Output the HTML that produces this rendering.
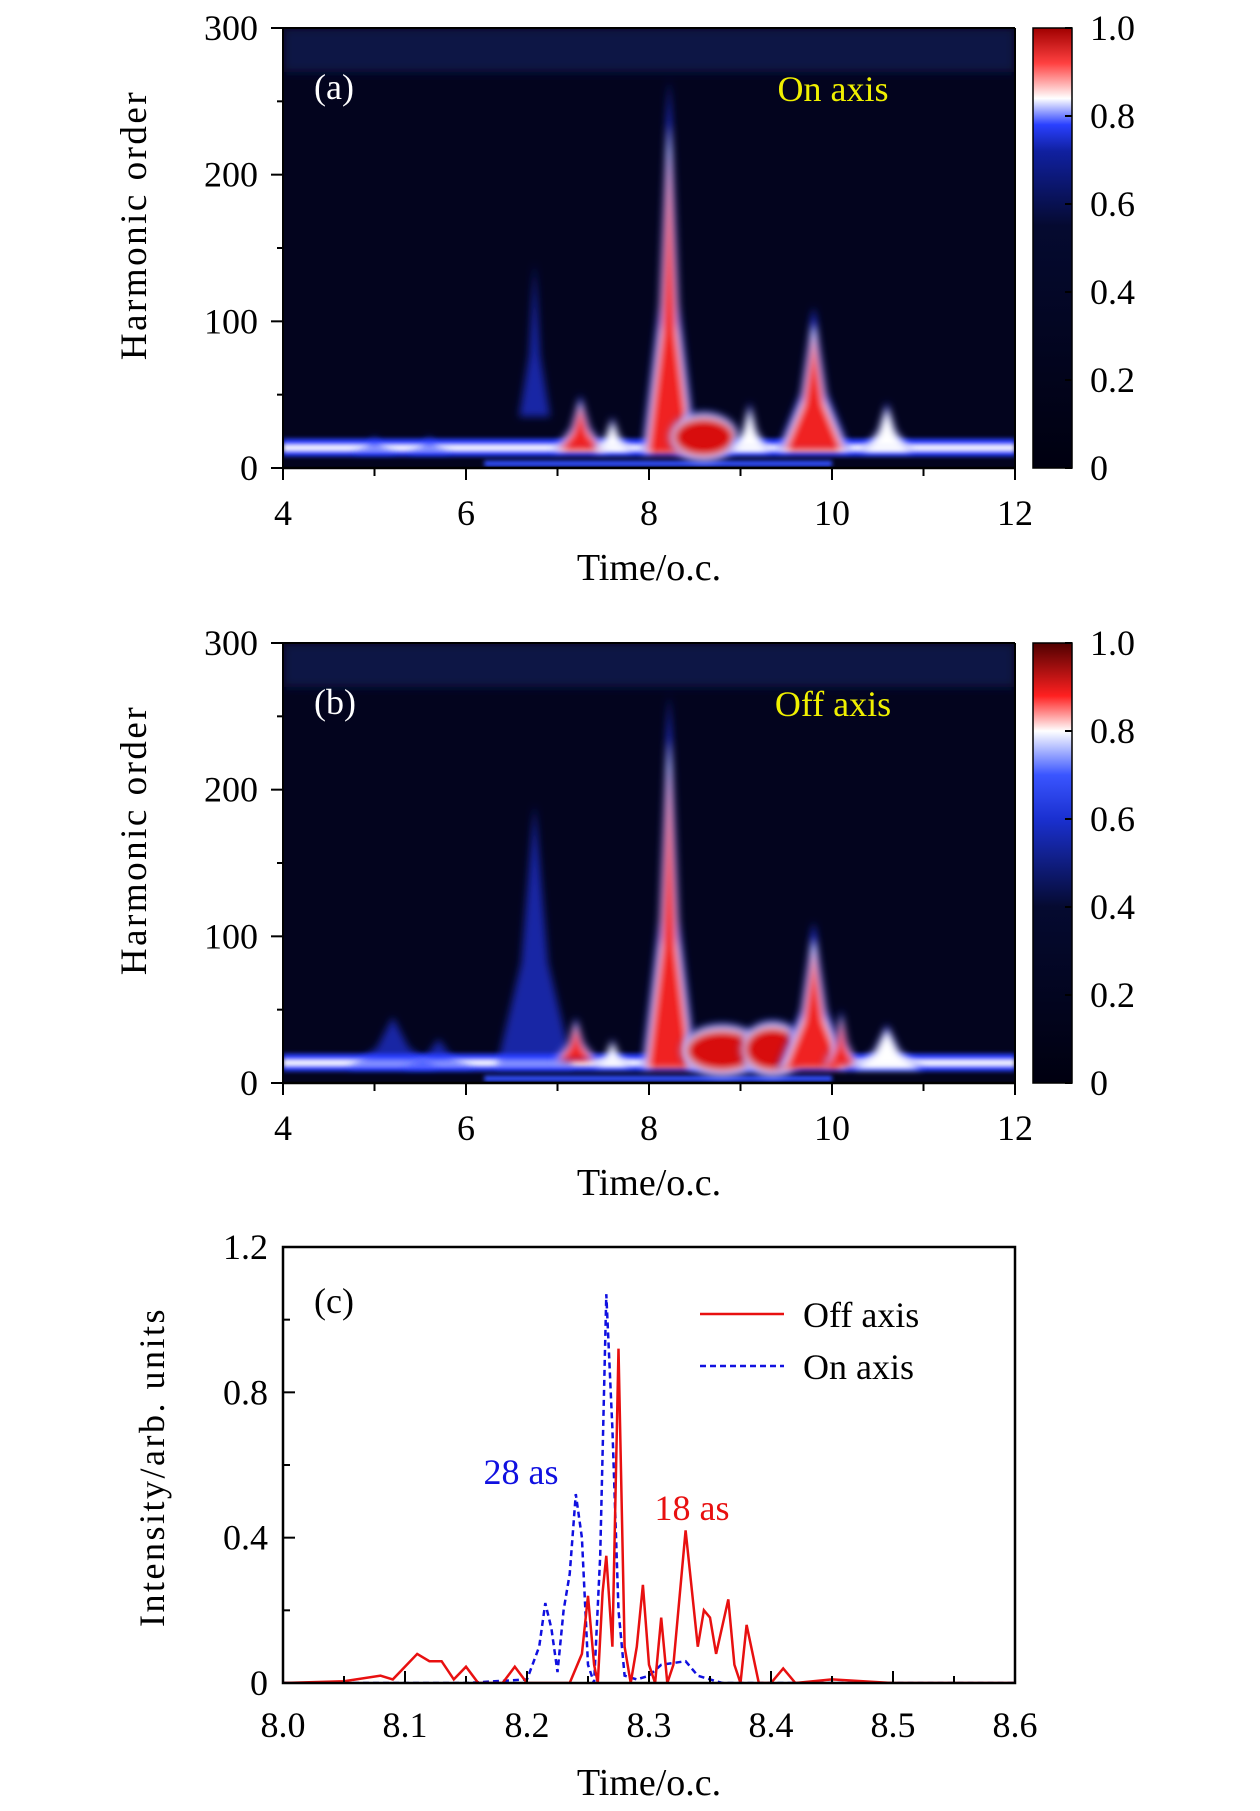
<!DOCTYPE html>
<html><head><meta charset="utf-8">
<style>
html,body{margin:0;padding:0;background:#fff;}
svg{display:block;font-family:"Liberation Serif",serif;}
</style></head>
<body>
<svg id="fig" width="1260" height="1811" viewBox="0 0 1260 1811" xmlns="http://www.w3.org/2000/svg">
<defs>
  <filter id="blur" x="-50%" y="-50%" width="200%" height="200%"><feGaussianBlur stdDeviation="5"/></filter>
  <filter id="blur2" x="-50%" y="-50%" width="200%" height="200%"><feGaussianBlur stdDeviation="4"/></filter>
  <filter id="blur3" x="-50%" y="-50%" width="200%" height="200%"><feGaussianBlur stdDeviation="2"/></filter>
  <linearGradient id="cbA" x1="0" y1="1" x2="0" y2="0">
    <stop offset="0" stop-color="#000010"/><stop offset="0.55" stop-color="#050a30"/>
    <stop offset="0.72" stop-color="#1020a0"/><stop offset="0.78" stop-color="#2a40ff"/>
    <stop offset="0.84" stop-color="#ffffff"/><stop offset="0.92" stop-color="#ff4040"/>
    <stop offset="1" stop-color="#a00000"/></linearGradient>
  <linearGradient id="cbB" x1="0" y1="1" x2="0" y2="0">
    <stop offset="0" stop-color="#000010"/><stop offset="0.4" stop-color="#050a30"/>
    <stop offset="0.6" stop-color="#1a30d0"/><stop offset="0.7" stop-color="#3a55ff"/>
    <stop offset="0.8" stop-color="#ffffff"/><stop offset="0.88" stop-color="#ff2020"/>
    <stop offset="1" stop-color="#500000"/></linearGradient>
  <clipPath id="clipA"><rect x="283" y="28" width="732" height="440"/></clipPath>
  <clipPath id="clipB"><rect x="283" y="643" width="732" height="440"/></clipPath>
  <clipPath id="clipC"><rect x="283" y="1247" width="732" height="436"/></clipPath>
</defs>
<g id="root"></g>
</svg>
<script>
// ---- heatmap data: [centerTime, topHarmonic, halfWidth(time), baseHarmonic, kind]
const peaksA = [[5.0,22,0.25,10,'b'],[5.6,22,0.25,10,'b'],[6.75,140,0.17,35,'b'],[7.25,50,0.3,12,'r'],[7.6,35,0.22,12,'w'],[8.22,265,0.3,10,'r'],[8.6,36,0.38,6,'R'],[9.1,45,0.22,12,'w'],[9.8,110,0.4,12,'r'],[10.6,45,0.28,12,'w']];
const peaksB = [[5.2,45,0.5,10,'b'],[5.7,30,0.4,10,'b'],[6.75,190,0.42,10,'b'],[7.2,45,0.25,15,'r'],[7.6,30,0.2,12,'w'],[8.22,265,0.3,10,'r'],[8.8,38,0.45,6,'R'],[9.35,40,0.35,6,'R'],[9.8,110,0.4,10,'r'],[10.1,50,0.2,12,'r'],[10.6,40,0.4,10,'w']];
const xTicksHM = [4,6,8,10,12];
const yTicksHM = [0,100,200,300];
const cbTicks = ["1.0","0.8","0.6","0.4","0.2","0"];
// ---- line chart data
const offT = [8.0,8.05,8.08,8.09,8.11,8.12,8.13,8.14,8.15,8.16,8.18,8.19,8.2,8.235,8.245,8.25,8.255,8.258,8.262,8.265,8.27,8.275,8.28,8.285,8.29,8.295,8.30,8.305,8.31,8.315,8.32,8.33,8.34,8.345,8.35,8.355,8.365,8.37,8.375,8.38,8.39,8.40,8.41,8.42,8.45,8.5,8.6];
const offV = [0,0.005,0.02,0.01,0.08,0.06,0.06,0.01,0.045,0,0,0.045,0,0,0.08,0.24,0.05,0,0.25,0.35,0.1,0.92,0.1,0,0.1,0.27,0.05,0,0.18,0,0.05,0.42,0.1,0.2,0.18,0.08,0.23,0.05,0,0.16,0,0,0.04,0,0.01,0,0];
const onT = [8.0,8.15,8.2,8.21,8.215,8.22,8.225,8.23,8.235,8.24,8.245,8.25,8.255,8.26,8.265,8.27,8.275,8.28,8.29,8.30,8.31,8.33,8.34,8.36,8.6];
const onV = [0,0,0.01,0.1,0.22,0.15,0.03,0.2,0.3,0.52,0.4,0.05,0,0.35,1.07,0.7,0.2,0.02,0.01,0.02,0.05,0.06,0.02,0,0];
const xTicksC = [8.0,8.1,8.2,8.3,8.4,8.5,8.6];
const yTicksC = [0,0.4,0.8,1.2];

const NS="http://www.w3.org/2000/svg";
const root=document.getElementById('root');
function el(tag,attrs,parent,text){const e=document.createElementNS(NS,tag);for(const k in attrs)e.setAttribute(k,attrs[k]);if(text!==undefined)e.textContent=text;(parent||root).appendChild(e);return e;}

const L=283,R=1015,W=R-L,H=440;
function drawHeatmap(top,peaks,cb,lab,title,name,clip){
  const bot=top+H;
  const xs=t=>L+(t-4)/8*W, ys=h=>bot-h/300*H;
  const g=el('g',{'clip-path':'url(#'+clip+')'});
  
  
  el('rect',{x:L,y:top,width:W,height:H,fill:'#03041e'},g);
  el('rect',{x:L,y:top,width:W,height:ys(270)-top,fill:'#0b1445',filter:'url(#blur)'},g);
  const bands=el('g',{filter:'url(#blur3)'},g);
  el('rect',{x:L,y:ys(20),width:W,height:ys(8)-ys(20),fill:'#2540ff'},bands);
  el('rect',{x:L,y:ys(15.5),width:W,height:ys(12)-ys(15.5),fill:'#ffffff'},bands);
  el('rect',{x:xs(6.2),y:ys(5),width:xs(10)-xs(6.2),height:ys(1)-ys(5),fill:'#3050ff'},bands);
  for(const p of peaks){
    const [t,h,hw,b,k]=p;
    const pg=el('g',{filter:'url(#blur2)'},g);
    
    
    const tri=(s,col,op)=>{const hh=b+(h-b)*s,w=hw*s;
      el('polygon',{points:`${xs(t-w)},${ys(b)} ${xs(t-w*0.35)},${ys(b+(hh-b)*0.4)} ${xs(t)},${ys(hh)} ${xs(t+w*0.35)},${ys(b+(hh-b)*0.4)} ${xs(t+w)},${ys(b)}`,fill:col,'fill-opacity':op},pg);};
    if(k==='R'){
      const rx=xs(t+hw)-xs(t), ry=(ys(b)-ys(h))/2, cy=ys((h+b)/2);
      el('ellipse',{cx:xs(t),cy:cy,rx:rx,ry:ry*1.15,fill:'#3050ff'},pg);
      el('ellipse',{cx:xs(t),cy:cy,rx:rx*0.94,ry:ry*1.0,fill:'#ffffff'},pg);
      el('ellipse',{cx:xs(t),cy:cy,rx:rx*0.88,ry:ry*0.88,fill:'#d80808'},pg);
      continue;}
    tri(1,'#2a3cff',k==='b'?0.6:1);
    if(k!=='b') tri(0.88,'#ffffff',1);
    if(k==='r') tri(0.8,'#f02020',1);
  }
  el('line',{x1:L,y1:top,x2:R,y2:top,stroke:'#000','stroke-width':2});
  el('line',{x1:L,y1:top,x2:L,y2:bot,stroke:'#000','stroke-width':2});
  el('line',{x1:L,y1:bot,x2:R,y2:bot,stroke:'#000','stroke-width':2.5});
  el('line',{x1:R,y1:top,x2:R,y2:bot,stroke:'#000','stroke-width':2});
  for(let t=4;t<=12;t++){const major=t%2===0;
    el('line',{x1:xs(t),y1:bot,x2:xs(t),y2:bot+(major?12:8),stroke:'#000','stroke-width':2});}
  for(const t of xTicksHM){const tx=el('text',{x:xs(t),y:bot+57,'font-size':36,'text-anchor':'middle'},root,String(t));
    }
  for(let h=0;h<=300;h+=50){el('line',{x1:L-(h%100===0?12:6),y1:ys(h),x2:L,y2:ys(h),stroke:'#000','stroke-width':2});}
  for(const h of yTicksHM){const tx=el('text',{x:L-25,y:ys(h)+12,'font-size':36,'text-anchor':'end'},root,String(h));
    }
  const yl=el('text',{x:0,y:0,'font-size':37,'text-anchor':'middle','letter-spacing':'2.5',transform:`translate(146,${(top+bot)/2-23}) rotate(-90)`},root,'Harmonic order');
  
  const xl=el('text',{x:649,y:bot+112,'font-size':38,'text-anchor':'middle'},root,'Time/o.c.');
  
  const pl=el('text',{x:314,y:top+71,'font-size':36,fill:'#fff'},root,lab);
  
  const tt=el('text',{x:833,y:top+73,'font-size':36,fill:'#f0f000','text-anchor':'middle'},root,title);
  
  const cbr=el('rect',{x:1033,y:top,width:39,height:H,fill:'url(#'+cb+')',stroke:'#000','stroke-width':1.5});
  
  cbTicks.forEach((s,i)=>{const y=top+i*H/5;
    el('line',{x1:1065,y1:y,x2:1072,y2:y,stroke:'#000','stroke-width':2});
    const tx=el('text',{x:1090,y:y+12,'font-size':36},root,s);
    });
}
drawHeatmap(28,peaksA,'cbA','(a)','On axis','on-axis','clipA');
drawHeatmap(643,peaksB,'cbB','(b)','Off axis','off-axis','clipB');

(function(){
  const top=1247,bot=1683;
  const xs=t=>L+(t-8)/0.6*W, ys=v=>bot-v/1.2*(bot-top);
  const g=el('g',{'clip-path':'url(#clipC)'});
  const path=(T,V)=>T.map((t,i)=>(i?'L':'M')+xs(t).toFixed(1)+','+ys(V[i]).toFixed(1)).join(' ');
  const on=el('path',{d:path(onT,onV),fill:'none',stroke:'#1010e0','stroke-width':2.5,'stroke-dasharray':'6,4'},g);
  
  const off=el('path',{d:path(offT,offV),fill:'none',stroke:'#e81010','stroke-width':2.5},g);
  
  const fr=el('rect',{x:L,y:top,width:W,height:bot-top,fill:'none',stroke:'#000','stroke-width':2.5});
  
  for(let t=8.0;t<=8.6001;t+=0.05){const major=Math.abs(t*10-Math.round(t*10))<0.01;
    el('line',{x1:xs(t),y1:bot,x2:xs(t),y2:bot-(major?12:7),stroke:'#000','stroke-width':2});}
  for(const t of xTicksC){
    const tx=el('text',{x:xs(t),y:bot+54,'font-size':36,'text-anchor':'middle'},root,t.toFixed(1));
    }
  for(let v=0;v<=1.2001;v+=0.2){el('line',{x1:L,y1:ys(v),x2:L+(Math.round(v*10)%4===0?12:7),y2:ys(v),stroke:'#000','stroke-width':2});}
  for(const v of yTicksC){const tx=el('text',{x:L-15,y:ys(v)+12,'font-size':36,'text-anchor':'end'},root,v===0?'0':v.toFixed(1));
    }
  const yl=el('text',{x:0,y:0,'font-size':36,'text-anchor':'middle','letter-spacing':'2.5',transform:`translate(164,1467) rotate(-90)`},root,'Intensity/arb. units');
  
  const xl=el('text',{x:649,y:1795,'font-size':38,'text-anchor':'middle'},root,'Time/o.c.');
  
  const pl=el('text',{x:314,y:1313,'font-size':36},root,'(c)');
  
  el('line',{x1:700,y1:1314,x2:784,y2:1314,stroke:'#e81010','stroke-width':2.5});
  const l1=el('text',{x:803,y:1327,'font-size':36},root,'Off axis');
  
  el('line',{x1:700,y1:1366,x2:784,y2:1366,stroke:'#1010e0','stroke-width':2.5,'stroke-dasharray':'6,4'});
  const l2=el('text',{x:803,y:1379,'font-size':36},root,'On axis');
  
  const a1=el('text',{x:521,y:1484,'font-size':36,fill:'#1010e0','text-anchor':'middle'},root,'28 as');
  
  const a2=el('text',{x:692,y:1520,'font-size':36,fill:'#e81010','text-anchor':'middle'},root,'18 as');
  
})();
</script>
</body></html>
